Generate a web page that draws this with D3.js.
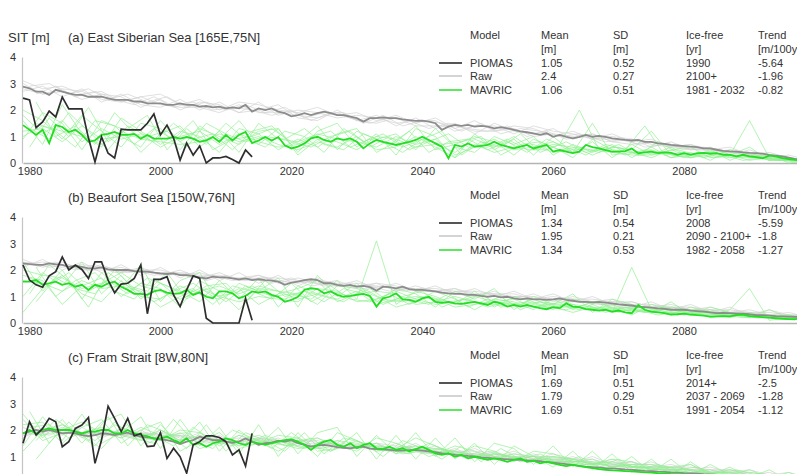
<!DOCTYPE html>
<html lang="en">
<meta charset="UTF-8">
<style>
    body{ margin:0; background:#fff; }
    text{ font-family:"Liberation Sans", Arial, sans-serif; fill:#333; }
    .lbl{ font-size:11px; }
    .ttl{ font-size:13px; }
</style>
<body>
<div id="chart"></div>
<script src="https://cdn.jsdelivr.net/npm/d3@7"></script>
<script>
    // ---- data ----
    var startYear = 1979;
    var titles = ["(a) East Siberian Sea [165E,75N]", "(b) Beaufort Sea [150W,76N]", "(c) Fram Strait [8W,80N]"];
    var xTicks = [1980, 2000, 2020, 2040, 2060, 2080, 2100];
    var yTicks = [0, 1, 2, 3, 4];
    var models = ["PIOMAS", "Raw", "MAVRIC"];
    var headers = [["Model", ""], ["Mean", "[m]"], ["SD", "[m]"], ["Ice-free", "[yr]"], ["Trend", "[m/100yr]"]];

    var statsA = [["1.05", "0.52", "1990", "-5.64"], ["2.4", "0.27", "2100+", "-1.96"], ["1.06", "0.51", "1981 - 2032", "-0.82"]];
    var statsB = [["1.34", "0.54", "2008", "-5.59"], ["1.95", "0.21", "2090 - 2100+", "-1.8"], ["1.34", "0.53", "1982 - 2058", "-1.27"]];
    var statsC = [["1.69", "0.51", "2014+", "-2.5"], ["1.79", "0.29", "2037 - 2069", "-1.28"], ["1.69", "0.51", "1991 - 2054", "-1.12"]];

    // PIOMAS yearly 1979-2014
    var piomasA = [2.45,2.38,1.33,1.55,1.96,1.74,2.49,2.04,2.04,2.04,0.94,0.04,0.98,0.37,0.19,1.28,1.25,1.25,1.25,1.5,1.85,1.06,1.43,0.94,0.11,0.75,0.3,0.64,0.0,0.19,0.19,0.25,0.13,0.0,0.49,0.23];
    var piomasB = [2.19,1.62,1.44,1.35,1.78,1.94,2.49,2.0,2.19,2.02,1.68,2.31,2.31,1.62,1.14,1.47,1.5,1.68,2.19,0.35,1.65,1.65,1.75,1.06,0.62,1.25,1.78,1.68,0.18,0,0,0,0,0,0.93,0.1];
    var piomasC = [1.5,2.31,1.81,2.06,2.44,2.31,1.37,1.56,2.06,2.19,2.47,0.74,1.62,2.9,2.44,1.94,2.44,1.78,1.87,1.37,1.4,1.9,0.93,1.31,0.99,0.37,1.44,1.56,1.78,1.78,1.72,1.56,1.06,1.25,0.64,1.87];

    // ensemble means, yearly 1979-2100
    var rawA = [2.88,2.82,2.69,2.69,2.57,2.76,2.69,2.63,2.57,2.57, 2.5,2.5,2.5,2.44,2.38,2.38,2.38,2.32,2.32,2.25,
        2.25,2.25,2.19,2.19,2.25,2.19,2.19,2.13,2.15,2.1, 2.13,2.06,2.1,2.06,2.19,1.94,2.06,2.0,2.06,1.94,
        1.88,1.76,1.81,1.88,1.81,1.88,1.94,1.88,1.81,1.81, 1.75,1.69,1.56,1.69,1.69,1.72,1.69,1.69,1.65,1.62,
        1.59,1.6,1.56,1.5,1.25,1.37,1.44,1.4,1.44,1.37, 1.4,1.37,1.31,1.35,1.31,1.25,1.19,1.16,1.12,1.06,
        1.12,0.99,1.06,0.99,0.93,0.99,1.06,0.99,1.02,0.99, 0.93,0.9,0.87,0.85,0.87,0.8,0.8,0.74,0.72,0.68,
        0.66,0.64,0.62,0.6,0.55,0.55,0.5,0.46,0.44,0.43, 0.4,0.38,0.37,0.35,0.31,0.28,0.25,0.2,0.15,0.12, 0.08,0.06];
    var mavA = [1.43,1.25,1.06,1.25,0.75,1.43,1.36,1.17,1.25,1.06, 0.8,0.85,1.06,1.1,1.17,1.06,1.06,1.1,0.92,1.06,
        0.92,0.92,0.92,0.98,0.92,0.98,0.92,0.8,0.85,0.98, 0.8,1.06,0.85,1.06,1.17,0.75,0.85,0.98,0.85,0.98,
        0.67,0.55,0.62,0.74,0.93,0.99,0.87,0.8,0.93,0.87, 0.93,0.8,0.55,0.74,0.87,0.8,0.74,0.68,0.74,0.8,
        0.87,0.99,0.87,0.74,0.62,0.18,0.68,0.62,0.74,0.62, 0.65,0.68,0.8,0.68,0.62,0.55,0.62,0.68,0.55,0.62,
        0.68,0.43,0.49,0.43,0.37,0.43,0.68,0.6,0.55,0.49, 0.43,0.43,0.45,0.55,0.37,0.4,0.43,0.37,0.4,0.38,
        0.31,0.37,0.31,0.37,0.38,0.35,0.37,0.31,0.31,0.25, 0.31,0.25,0.22,0.18,0.28,0.25,0.18,0.15,0.12,0.09, 0.06,0.04];
    var rawB = [2.25,2.22,2.19,2.19,2.25,2.21,2.19,2.12,2.15,2.12, 2.06,2.06,2.1,2.02,2.0,2.0,2.0,1.96,1.94,1.94,
        1.9,1.87,1.85,1.87,1.81,1.81,1.77,1.72,1.68,1.75, 1.72,1.72,1.68,1.65,1.68,1.62,1.65,1.62,1.6,1.56,
        1.44,1.52,1.56,1.62,1.65,1.62,1.5,1.5,1.44,1.4, 1.44,1.37,1.4,1.35,1.22,1.37,1.35,1.31,1.37,1.28,
        1.25,1.25,1.22,1.19,1.15,1.12,1.1,1.1,1.06,1.06, 1.02,0.99,1.02,0.97,0.99,0.93,0.89,0.93,0.89,0.89,
        0.87,0.89,0.93,0.87,0.84,0.8,0.8,0.78,0.8,0.77, 0.74,0.7,0.68,0.66,0.62,0.6,0.58,0.55,0.53,0.5,
        0.5,0.5,0.47,0.45,0.43,0.4,0.37,0.38,0.37,0.35, 0.35,0.33,0.3,0.3,0.28,0.26,0.25,0.24,0.23,0.22, 0.21,0.2];
    var mavB = [1.56,1.56,1.62,1.44,1.5,1.56,1.44,1.5,1.37,1.44, 1.25,1.44,1.37,1.5,1.56,1.37,1.25,1.1,1.1,1.06,
        1.19,1.25,1.15,1.1,1.12,1.25,1.06,1.15,0.99,0.93, 1.19,1.19,1.12,0.93,1.02,1.19,1.15,1.19,1.06,0.99,
        0.8,0.87, 0.99,1.25,1.31,1.28,1.12,1.19,1.06,0.99,1.02,1.06, 1.1,1.02,0.62,0.93,0.99,1.12,0.89,0.87,0.8,0.93,
        0.99,0.8,0.76,0.8,0.74,0.72,0.76,0.8,0.74,0.68, 0.8,0.74,0.62,0.68,0.62,0.68,0.62,0.56,0.52,0.6,
        0.56,0.74,0.62,0.6,0.52,0.5, 0.47,0.5,0.43,0.47,0.4,0.37,0.68,0.5,0.43,0.4,
        0.37,0.32,0.33,0.35,0.32,0.3,0.28,0.24,0.25,0.26, 0.25,0.3,0.32,0.26,0.24,0.22,0.2,0.18,0.16,0.15, 0.15,0.16,0.15,0.14];
    var rawC = [1.87,1.94,2.0,1.94,2.0,1.94,1.87,1.9,1.87,1.81, 1.77,1.81,1.87,1.85,1.81,1.85,1.9,1.81,1.75,1.72,
        1.68,1.65,1.62,1.56,1.47,1.56,1.62,1.75,1.68,1.62, 1.62,1.56,1.52,1.56,1.68,1.56,1.44,1.5,1.52,1.6,
        1.56,1.62, 1.5,1.45,1.37,1.42,1.44,1.4,1.35,1.33,1.31,1.35, 1.37,1.3,1.28,1.27,1.25,1.22,1.22,1.24,1.25,1.22,
        1.19,1.16,1.12,1.1,1.06,1.05,1.02,1.0,0.97,0.95, 0.93,0.91,0.89,0.88,0.87,0.85,0.84,0.82,0.8,0.77,
        0.74,0.71,0.68,0.65,0.62,0.6,0.58,0.56,0.55,0.53, 0.51,0.5,0.48,0.46,0.45,0.43,0.42,0.4,0.39,0.37,
        0.36,0.35,0.33,0.32,0.31,0.3,0.29,0.28,0.27,0.26, 0.25,0.24,0.24,0.23,0.22,0.22,0.21,0.21,0.2,0.2];
    var mavC = [1.87,2.0,1.87,2.0,2.06,2.0,2.0,2.0,1.94,1.87, 1.94,1.94,2.0,2.0,1.87,1.87,2.0,1.87,1.81,1.77,
        1.68,1.68,1.75,1.62,1.52,1.68,1.44,1.5,1.37,1.5, 1.56,1.68,1.62,1.5,1.44,1.56,1.5,1.44,1.5,1.56,
        1.62,1.65, 1.56,1.44,1.25,1.44,1.56,1.62,1.44,1.37,1.5,1.31, 1.44,1.5,1.31,1.28,1.37,1.25,1.31,1.19,1.28,1.37,
        1.25,1.12,1.06,1.12,0.99,1.06,0.93,0.99,0.93,0.87, 0.93,0.87,0.8,0.87,0.93,0.8,0.84,0.74,0.8,0.74,
        0.68,0.64,0.68,0.64,0.6,0.56,0.52,0.5,0.48,0.47, 0.45,0.44,0.42,0.4,0.39,0.37,0.36,0.34,0.33,0.32,
        0.31,0.3,0.29,0.28,0.27,0.26,0.25,0.24,0.23,0.22, 0.22,0.21,0.2,0.2,0.19,0.19,0.18,0.18,0.17,0.17];

    // individual ensemble members, one value every 3 years from their start year
    var memberStep = 3;
    var rawStarts = [1979, 1979, 1979, 1979, 1980, 1981];
    var mavStarts = [1979, 1979, 1979, 1979, 1979, 1979, 1980, 1981, 1980, 1981];

    var rawMembersA = [
        [3.1,2.8,2.9,2.6,2.7,2.3,2.5,2.6,2.2,2.4,2.0,2.3,2.2,2.0,1.9,2.1,1.8,1.9,1.6,1.8,1.5,1.7,1.3,1.6,1.2,1.4,1.3,1.0,1.2,0.9,1.1,0.8,0.9,0.6,0.7,0.5,0.6,0.3,0.4,0.2,0.1],
        [2.7,2.9,2.5,2.8,2.3,2.6,2.2,2.1,2.4,2.0,2.3,1.9,2.0,2.2,1.7,1.6,2.0,1.6,1.8,1.4,1.7,1.3,1.5,1.1,1.5,1.2,1.1,1.3,0.9,1.1,0.8,0.9,0.6,0.8,0.5,0.6,0.3,0.5,0.2,0.3,0.1],
        [3.0,2.6,2.7,2.4,2.6,2.5,2.1,2.4,2.0,2.3,2.2,1.9,2.3,1.8,2.0,1.9,1.7,1.8,1.7,1.5,1.6,1.6,1.2,1.4,1.4,1.1,1.4,1.2,1.1,0.9,1.0,0.9,0.7,0.6,0.7,0.4,0.5,0.4,0.3,0.1,0.2],
        [2.8,2.6,2.8,2.7,2.4,2.3,2.5,2.2,2.1,2.1,1.9,2.2,1.9,1.9,1.8,1.7,1.9,1.6,1.5,1.7,1.4,1.4,1.4,1.2,1.2,1.3,1.0,1.1,1.0,1.1,0.8,0.7,0.8,0.7,0.5,0.5,0.4,0.3,0.3,0.2,0.1],
        [2.9,3.0,2.6,2.8,2.4,2.6,2.3,2.5,2.1,2.3,2.0,2.2,1.9,2.1,1.7,1.9,1.9,1.5,1.8,1.4,1.6,1.5,1.2,1.5,1.1,1.3,1.2,1.0,1.1,0.9,0.9,0.7,0.8,0.6,0.5,0.5,0.4,0.3,0.2,0.1],
        [2.6,2.9,2.5,2.7,2.4,2.2,2.5,2.1,2.3,2.0,2.1,2.0,1.8,2.0,1.6,1.9,1.7,1.5,1.7,1.6,1.3,1.5,1.3,1.2,1.4,1.0,1.2,0.9,1.0,0.8,0.9,0.6,0.7,0.5,0.6,0.4,0.4,0.2,0.2,0.1]];
    var mavMembersA = [
        [2.0,1.6,0.9,1.8,1.2,0.6,1.5,1.3,0.5,1.4,0.9,1.6,0.7,1.3,0.4,1.2,1.5,0.6,1.1,0.3,1.3,1.0,0.2,1.1,0.5,0.9,0.3,1.0,0.4,0.8,0.2,0.7,0.3,0.6,0.2,0.5,0.1,0.4,0.1,0.2,0.0],
        [0.9,1.9,1.5,0.5,1.6,1.3,0.4,1.1,1.4,0.6,1.2,0.4,1.5,0.9,0.8,1.4,0.5,1.2,0.9,1.1,0.5,1.3,0.6,0.4,1.0,0.7,1.0,0.3,0.7,0.4,0.7,0.2,0.6,0.2,0.4,0.1,0.5,0.2,0.3,0.0,0.1],
        [1.6,0.7,2.2,1.1,0.6,1.7,1.2,0.7,1.2,1.0,0.4,1.3,1.1,0.5,0.9,0.6,1.1,1.3,0.4,0.8,1.4,0.5,0.7,1.0,0.8,0.3,0.9,0.6,0.2,0.9,0.5,0.4,0.2,0.5,0.6,0.2,0.3,0.6,0.1,0.2,0.0],
        [1.2,1.3,0.8,1.4,0.9,1.0,0.6,1.6,0.8,1.3,1.0,0.7,1.2,1.3,0.3,0.9,0.8,0.5,1.0,0.9,0.6,0.7,0.4,0.9,0.6,1.0,0.5,0.7,0.6,0.3,0.6,0.5,1.2,0.3,0.2,0.4,0.3,0.1,0.2,0.1,0.1],
        [1.8,1.1,1.6,0.8,1.3,0.9,1.1,0.6,1.0,1.2,0.7,1.1,0.8,0.6,0.7,1.1,0.9,0.8,0.6,1.0,0.7,0.9,0.3,0.6,0.9,0.5,0.6,0.8,0.4,1.5,0.3,0.4,0.5,0.2,0.3,0.4,0.3,1.6,0.2,0.1,0.0],
        [1.0,1.4,1.2,1.0,0.7,1.2,0.9,0.8,0.7,0.8,1.1,0.8,1.0,0.7,0.5,0.8,0.6,1.0,0.5,0.6,1.0,0.6,0.2,0.7,0.4,0.6,0.7,0.4,0.5,0.5,0.4,0.3,0.3,0.4,0.2,0.3,0.2,0.3,0.1,0.1,0.1],
        [0.6,1.7,1.0,2.1,0.8,1.3,1.8,0.5,1.3,0.7,1.5,0.9,0.6,1.2,1.0,0.4,1.3,0.8,1.1,0.6,0.9,1.2,0.3,0.8,0.6,1.1,0.4,0.7,2.0,0.5,0.6,0.3,0.8,0.4,0.3,0.5,0.2,0.3,0.1,0.1],
        [2.3,1.0,1.4,0.7,1.9,1.1,0.8,1.5,0.9,1.1,0.5,1.2,1.4,0.7,1.0,1.2,0.6,0.9,0.7,1.2,0.4,0.8,0.9,0.5,0.8,0.4,0.9,0.6,0.3,0.7,0.5,1.4,0.3,0.4,0.2,0.4,0.2,0.2,0.1,0.0],
        [1.3,0.9,1.9,1.2,0.5,1.4,1.0,1.2,0.6,1.5,1.1,0.8,1.0,0.9,1.3,0.7,0.5,1.1,0.8,0.4,0.9,0.7,0.8,1.0,0.3,0.7,0.8,0.5,0.6,0.4,0.7,0.3,0.4,0.5,0.3,0.2,0.3,0.2,0.1,0.1],
        [1.5,1.2,0.6,1.6,1.4,0.7,1.3,0.9,1.6,0.5,0.9,1.0,1.3,0.8,0.6,1.0,1.2,0.6,1.0,0.5,0.8,1.1,0.6,0.6,0.9,0.5,0.5,0.8,0.4,0.6,0.3,0.5,0.4,0.2,0.4,0.3,0.1,0.2,0.1,0.1]];
    var rawMembersB = [
        [2.4,2.1,2.3,2.0,2.2,1.9,2.1,1.8,2.0,1.7,1.9,1.6,1.8,1.5,1.7,1.5,1.6,1.3,1.5,1.2,1.4,1.2,1.3,1.0,1.2,0.9,1.1,0.8,1.0,0.8,0.9,0.6,0.8,0.5,0.7,0.4,0.6,0.3,0.5,0.3,0.3],
        [2.1,2.4,2.0,2.3,1.9,2.2,1.8,2.1,1.7,2.0,1.6,1.9,1.5,1.8,1.4,1.7,1.4,1.6,1.3,1.5,1.2,1.4,1.1,1.3,1.0,1.2,0.9,1.1,0.8,1.0,0.7,0.8,0.6,0.7,0.5,0.6,0.4,0.5,0.3,0.4,0.2],
        [2.3,2.2,2.1,2.2,2.1,1.9,2.0,2.0,1.8,1.9,1.7,1.7,1.8,1.6,1.5,1.6,1.5,1.5,1.4,1.3,1.3,1.3,1.2,1.2,1.1,1.0,1.0,0.9,0.9,0.9,0.8,0.7,0.7,0.6,0.5,0.5,0.4,0.4,0.4,0.3,0.3],
        [2.2,2.3,2.2,2.0,2.0,2.1,1.9,1.9,1.9,1.8,1.8,1.6,1.7,1.7,1.6,1.5,1.4,1.4,1.5,1.4,1.2,1.2,1.3,1.1,1.1,1.1,0.9,1.0,0.9,0.8,0.8,0.8,0.6,0.6,0.6,0.5,0.5,0.4,0.3,0.3,0.2],
        [2.3,2.1,2.2,2.0,2.1,1.9,2.0,1.8,1.9,1.6,1.8,1.6,1.7,1.5,1.6,1.4,1.4,1.3,1.4,1.2,1.3,1.1,1.2,1.0,1.0,1.0,0.9,0.9,0.8,0.7,0.7,0.6,0.6,0.5,0.5,0.4,0.4,0.3,0.3,0.2],
        [2.1,2.3,2.0,2.2,1.9,2.0,1.8,1.9,1.7,1.8,1.6,1.7,1.5,1.7,1.4,1.5,1.4,1.4,1.2,1.3,1.2,1.2,1.0,1.1,1.0,0.9,0.9,0.8,0.8,0.7,0.6,0.6,0.5,0.5,0.4,0.4,0.3,0.3,0.2,0.2]];
    var mavMembersB = [
        [2.3,1.2,2.0,0.9,1.9,1.3,2.2,0.8,1.6,1.9,0.7,1.5,1.2,1.7,0.6,1.8,1.0,1.5,0.8,1.3,1.1,0.6,1.2,0.9,1.3,0.5,1.0,0.7,1.1,0.4,0.9,0.7,0.4,0.8,0.3,0.6,0.4,0.2,0.5,0.2,0.3],
        [1.0,1.9,1.4,2.3,1.1,1.8,0.9,1.5,1.2,0.8,1.6,0.9,1.7,0.6,1.4,1.1,1.6,0.9,3.1,0.7,1.2,1.0,0.7,1.2,0.6,1.0,0.8,0.5,0.9,0.7,0.4,2.1,0.5,0.3,0.6,0.4,0.2,0.4,0.2,0.3,0.1],
        [1.8,1.6,0.7,1.4,1.7,1.0,1.5,1.3,0.6,1.6,1.2,0.5,1.3,1.2,1.1,0.7,1.4,1.3,1.0,0.6,0.8,1.2,0.9,0.5,0.9,0.8,0.5,0.9,0.5,0.8,0.6,0.3,0.7,0.5,0.4,0.3,0.5,1.3,0.1,0.2,0.2],
        [0.4,1.3,1.8,1.1,0.8,1.6,1.0,0.9,1.4,1.1,0.9,1.3,0.7,1.1,1.3,1.6,0.8,1.1,1.2,1.1,0.7,0.8,1.0,0.8,0.7,0.6,0.9,0.6,0.4,0.6,0.5,0.6,0.4,0.6,0.5,0.2,0.3,0.3,0.3,0.2,0.1],
        [1.6,1.5,1.2,1.6,1.3,1.4,1.2,0.6,1.0,1.3,1.0,0.8,1.0,0.9,0.8,1.3,1.2,0.8,0.9,1.2,0.9,0.7,0.8,1.0,0.8,0.7,0.6,0.7,0.6,0.5,0.7,0.4,0.5,0.4,0.5,0.4,0.3,0.2,0.3,0.2,0.2],
        [2.0,1.8,1.7,1.3,1.5,1.9,1.4,1.2,0.9,1.2,1.4,1.1,1.4,1.2,0.9,1.1,0.9,1.2,0.7,0.9,1.0,0.9,0.6,0.7,0.8,0.9,0.6,0.6,0.7,0.6,0.4,0.5,0.4,0.4,0.3,0.5,0.3,0.3,0.2,0.3,0.2],
        [1.1,2.2,1.6,0.6,1.9,1.4,1.2,1.9,0.9,1.4,1.5,0.8,1.6,1.0,1.2,0.8,1.3,1.1,0.7,1.0,1.2,0.6,0.9,0.7,1.0,0.5,0.8,0.7,0.5,0.8,0.4,0.6,0.5,0.3,0.5,0.3,0.4,0.2,0.2,0.2],
        [2.1,1.0,1.6,1.9,1.2,0.9,1.7,1.1,1.3,0.7,1.4,1.2,0.9,1.5,0.8,1.2,1.0,1.3,0.8,0.9,0.7,1.1,0.6,0.9,0.7,0.8,0.6,0.5,0.7,0.4,0.6,0.4,0.5,0.3,0.4,0.3,0.2,0.3,0.2,0.2],
        [1.7,1.4,1.9,1.2,1.6,1.1,1.7,1.4,1.0,1.3,0.8,1.4,1.1,0.9,1.2,1.0,0.8,1.3,0.9,0.8,1.0,0.8,0.7,1.1,0.6,0.7,0.8,0.6,0.6,0.5,0.6,0.5,0.3,0.4,0.4,0.3,0.3,0.2,0.2,0.1],
        [0.8,1.7,1.3,1.1,2.0,1.3,0.8,1.2,1.5,1.0,1.1,1.4,1.0,1.1,0.9,1.4,0.9,0.8,1.1,0.7,1.0,0.8,0.9,0.6,0.8,0.6,0.7,0.8,0.5,0.6,0.5,0.4,0.6,0.4,0.3,0.3,0.3,0.2,0.2,0.1]];
    var rawMembersC = [
        [2.1,1.8,2.2,1.7,2.0,1.7,2.0,1.6,1.9,1.5,1.8,1.4,1.7,1.5,1.7,1.3,1.6,1.3,1.5,1.2,1.5,1.1,1.3,1.0,1.2,0.9,1.1,0.8,1.0,0.7,0.9,0.6,0.8,0.5,0.7,0.4,0.5,0.3,0.4,0.2,0.3],
        [1.7,2.1,1.8,2.1,1.7,2.0,1.7,2.0,1.6,1.9,1.5,1.8,1.5,1.7,1.4,1.7,1.3,1.6,1.2,1.5,1.2,1.4,1.1,1.3,1.0,1.2,0.9,1.1,0.8,1.0,0.7,0.8,0.6,0.7,0.5,0.6,0.4,0.5,0.3,0.4,0.2],
        [1.9,2.0,1.9,1.8,2.0,1.9,1.8,1.9,1.7,1.7,1.6,1.7,1.6,1.5,1.6,1.6,1.4,1.4,1.5,1.4,1.3,1.3,1.2,1.1,1.1,1.0,1.0,1.0,0.9,0.8,0.8,0.7,0.7,0.6,0.5,0.5,0.4,0.4,0.3,0.3,0.2],
        [1.8,1.9,2.1,1.9,1.8,1.8,1.9,1.8,1.8,1.6,1.5,1.6,1.7,1.6,1.5,1.5,1.5,1.3,1.4,1.3,1.4,1.2,1.2,1.2,1.0,1.1,0.9,0.9,0.9,0.9,0.7,0.8,0.6,0.6,0.6,0.5,0.5,0.3,0.3,0.3,0.3],
        [2.0,1.8,2.1,1.8,2.0,1.8,1.9,1.7,1.8,1.6,1.7,1.5,1.7,1.4,1.6,1.5,1.3,1.5,1.2,1.4,1.1,1.3,1.0,1.2,0.9,1.0,0.9,0.9,0.8,0.7,0.7,0.6,0.6,0.5,0.5,0.4,0.4,0.3,0.3,0.2],
        [1.8,2.1,1.8,1.9,1.9,1.7,1.9,1.6,1.7,1.7,1.5,1.6,1.5,1.6,1.3,1.5,1.3,1.4,1.2,1.3,1.1,1.2,1.1,1.0,1.0,0.9,0.9,0.8,0.8,0.7,0.6,0.6,0.5,0.5,0.4,0.4,0.3,0.3,0.3,0.2]];
    var mavMembersC = [
        [2.6,1.7,2.4,1.5,2.3,2.6,1.4,2.2,1.5,2.3,1.2,2.0,1.4,2.1,1.1,1.9,2.1,1.0,1.8,1.1,1.9,1.0,1.7,0.8,1.5,1.3,0.7,1.4,0.6,1.2,0.5,1.0,0.4,0.9,0.3,0.7,0.3,0.5,0.2,0.4,0.1],
        [1.4,2.5,1.6,2.6,1.5,1.9,2.5,1.3,2.4,1.4,2.1,1.1,2.2,1.0,1.9,1.2,1.3,1.9,0.9,1.8,0.9,1.7,0.9,1.5,0.7,1.4,1.0,0.6,1.2,0.5,1.1,0.4,0.9,0.3,0.8,0.3,0.6,0.2,0.5,0.1,0.3],
        [2.2,2.3,1.5,2.1,2.4,1.5,2.0,2.3,1.2,1.6,1.9,1.3,1.5,1.8,1.7,1.0,1.9,1.6,1.2,1.3,1.7,1.4,1.0,1.4,1.2,0.8,1.2,1.1,0.9,0.7,0.9,0.8,0.5,0.6,0.7,0.3,0.5,0.4,0.3,0.3,0.2],
        [1.2,2.0,2.2,1.8,1.3,2.1,1.7,1.6,2.0,1.9,1.4,1.8,1.6,1.2,1.6,1.7,1.4,1.2,1.7,1.5,1.2,1.1,1.4,1.2,0.9,1.1,1.0,0.9,0.8,0.9,0.6,0.7,0.7,0.5,0.4,0.5,0.3,0.3,0.3,0.2,0.2],
        [1.9,1.8,2.0,2.3,1.9,1.7,2.1,1.8,1.8,1.3,1.5,1.6,1.8,1.5,1.3,1.4,1.6,1.5,1.3,1.2,1.4,1.3,1.2,1.0,1.1,1.0,0.8,1.0,0.9,0.7,0.8,0.6,0.6,0.6,0.5,0.4,0.4,0.3,0.2,0.2,0.2],
        [2.4,1.6,1.9,1.9,2.1,1.8,1.6,2.0,1.6,1.8,1.6,1.4,1.5,1.6,1.4,1.3,1.4,1.3,1.5,1.1,1.3,1.2,1.1,1.1,1.0,0.9,1.0,0.8,0.8,0.8,0.6,0.7,0.5,0.5,0.4,0.4,0.3,0.3,0.2,0.2,0.1],
        [2.7,1.5,2.3,1.6,2.5,1.4,2.2,1.9,1.3,2.2,1.2,1.9,1.6,1.2,1.9,1.1,1.7,1.5,1.0,1.6,1.3,0.9,1.4,0.8,1.3,0.9,1.1,0.7,1.0,0.6,0.9,0.5,0.7,0.5,0.6,0.3,0.5,0.3,0.3,0.2],
        [1.6,2.4,1.9,1.4,2.3,1.7,1.5,2.4,1.6,1.3,2.0,1.7,1.3,1.9,1.4,1.2,1.7,1.4,1.3,1.1,1.5,1.2,0.9,1.2,1.0,0.8,1.0,0.9,0.7,0.8,0.6,0.6,0.5,0.5,0.4,0.4,0.3,0.3,0.2,0.2],
        [2.1,2.2,1.7,2.0,1.8,2.2,1.5,1.8,1.9,1.5,1.7,1.4,1.8,1.5,1.3,1.6,1.3,1.4,1.4,1.1,1.2,1.3,1.0,1.0,1.1,0.8,0.9,0.8,0.7,0.7,0.6,0.6,0.5,0.4,0.4,0.3,0.3,0.3,0.2,0.2],
        [0.9,1.8,2.0,1.6,2.2,1.9,1.8,1.4,2.1,1.6,1.4,1.7,1.5,1.4,1.7,1.2,1.5,1.3,1.2,1.4,1.0,1.2,1.1,0.9,1.0,0.9,0.8,0.8,0.7,0.6,0.7,0.5,0.5,0.4,0.4,0.3,0.3,0.2,0.2,0.2]];

    var panels = [
        {title: titles[0], piomas: piomasA, raw: rawA, mav: mavA, rawM: rawMembersA, mavM: mavMembersA, stats: statsA},
        {title: titles[1], piomas: piomasB, raw: rawB, mav: mavB, rawM: rawMembersB, mavM: mavMembersB, stats: statsB},
        {title: titles[2], piomas: piomasC, raw: rawC, mav: mavC, rawM: rawMembersC, mavM: mavMembersC, stats: statsC}
    ];

    // ---- layout ----
    var width = 797, height = 474;
    var panelH = 160;
    var left = 23;

    var svg = d3.select("#chart").append("svg")
        .attr("width", width)
        .attr("height", height);

    var x = d3.scaleLinear().domain([1979, 2100]).range([left, 815]);
    var y = d3.scaleLinear().domain([0, 4]).range([163, 57]);

    var colors = {piomas: "#2e2e2e", raw: "#8c8c8c", mav: "#22dd22", rawM: "#d2d2d2", mavM: "#92ef92"};

    function series(arr, first, step){
        return arr.map(function(v, i){ return [first + i*step, v]; });
    }

    var line = d3.line()
        .x(function(d){ return x(d[0]); })
        .y(function(d){ return y(d[1]); });

    svg.append("text").attr("class", "ttl")
        .attr("x", 8).attr("y", 42).text("SIT [m]");

    panels.forEach(function(p, k){
        var g = svg.append("g").attr("transform", "translate(0," + (k*panelH) + ")");

        g.append("text").attr("class", "ttl")
            .attr("x", 68).attr("y", 42).text(p.title);

        // axes
        var yAxis = g.append("g").attr("transform", "translate(" + (left-1) + ",0)")
            .call(d3.axisLeft(y).tickValues(yTicks).tickSize(0).tickPadding(6).tickFormat(d3.format("d")));
        yAxis.select(".domain").attr("stroke", "#c4c4c4").attr("stroke-width", 1.2);
        yAxis.selectAll("text").attr("class", "lbl").attr("font-family", null).attr("font-size", null);

        var xAxis = g.append("g").attr("transform", "translate(0," + y(0) + ")")
            .call(d3.axisBottom(x).tickValues(xTicks).tickSize(0).tickPadding(4).tickFormat(d3.format("d")));
        xAxis.select(".domain").attr("stroke", "#b4b4b4").attr("stroke-width", 1.5);
        xAxis.selectAll("text").attr("class", "lbl").attr("font-family", null).attr("font-size", null);

        // ensemble members
        g.selectAll("path.rawm").data(p.rawM).enter().append("path")
            .attr("class", "rawm")
            .attr("d", function(d, i){ return line(series(d, rawStarts[i], memberStep)); })
            .attr("fill", "none").attr("stroke", colors.rawM).attr("stroke-width", 0.7);
        g.selectAll("path.mavm").data(p.mavM).enter().append("path")
            .attr("class", "mavm")
            .attr("d", function(d, i){ return line(series(d, mavStarts[i], memberStep)); })
            .attr("fill", "none").attr("stroke", colors.mavM).attr("stroke-width", 0.7);

        // means and reanalysis
        g.append("path").attr("d", line(series(p.raw, startYear, 1)))
            .attr("fill", "none").attr("stroke", colors.raw).attr("stroke-width", 1.8);
        g.append("path").attr("d", line(series(p.mav, startYear, 1)))
            .attr("fill", "none").attr("stroke", colors.mav).attr("stroke-width", 1.8);
        g.append("path").attr("d", line(series(p.piomas, startYear, 1)))
            .attr("fill", "none").attr("stroke", colors.piomas).attr("stroke-width", 1.7);

        // legend table
        var colX = [470, 541, 613, 686, 758];
        headers.forEach(function(h, i){
            g.append("text").attr("class", "lbl").attr("x", colX[i]).attr("y", 39).text(h[0]);
            g.append("text").attr("class", "lbl").attr("x", colX[i]).attr("y", 53).text(h[1]);
        });
        var rowY = [63, 76, 90];
        var legStroke = [["#555", 2], ["#aaa", 1], ["#5fe85f", 2]];
        models.forEach(function(m, r){
            g.append("line").attr("x1", 439).attr("x2", 462)
                .attr("y1", rowY[r]).attr("y2", rowY[r])
                .attr("stroke", legStroke[r][0]).attr("stroke-width", legStroke[r][1]);
            g.append("text").attr("class", "lbl").attr("x", colX[0]).attr("y", rowY[r] + 4).text(m);
            p.stats[r].forEach(function(s, c){
                g.append("text").attr("class", "lbl").attr("x", colX[c+1]).attr("y", rowY[r] + 4).text(s);
            });
        });
    });
</script>
</body>
</html>
